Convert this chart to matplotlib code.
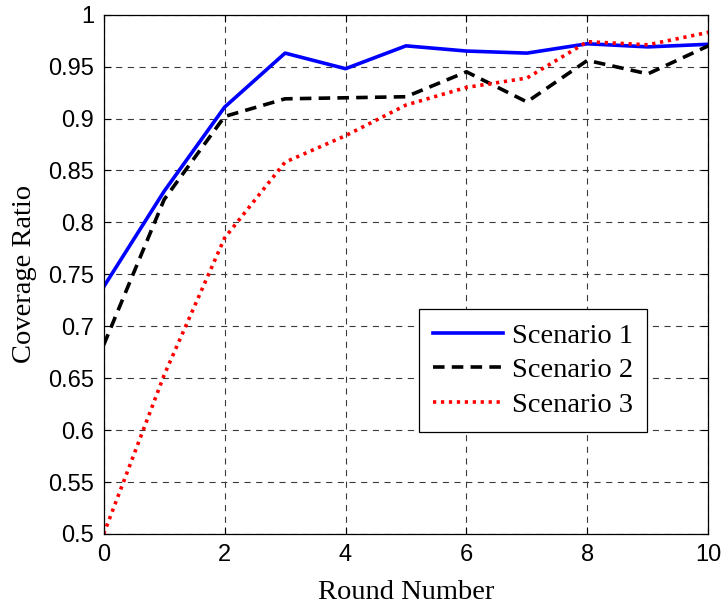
import matplotlib
matplotlib.use("Agg")
import matplotlib.pyplot as plt

rounds = list(range(11))
scenario1 = [0.738, 0.830, 0.911, 0.963, 0.948, 0.970, 0.965, 0.963, 0.972, 0.969, 0.9715]
scenario2 = [0.682, 0.822, 0.902, 0.919, 0.920, 0.921, 0.945, 0.916, 0.956, 0.943, 0.970]
scenario3 = [0.500, 0.653, 0.785, 0.858, 0.8835, 0.913, 0.930, 0.939, 0.974, 0.971, 0.983]
labels = ["Scenario 1", "Scenario 2", "Scenario 3"]
xticks = [0, 2, 4, 6, 8, 10]
yticks = [0.5, 0.55, 0.6, 0.65, 0.7, 0.75, 0.8, 0.85, 0.9, 0.95, 1.0]
ytick_labels = ["0.5", "0.55", "0.6", "0.65", "0.7", "0.75", "0.8", "0.85", "0.9", "0.95", "1"]

fig = plt.figure(figsize=(7.21, 6.07), dpi=100)
ax = fig.add_axes([0.1438, 0.1203, 0.8386, 0.8555])

ax.plot(rounds, scenario1, color="#0000ff", lw=2.6, linestyle="-", label=labels[0])
ax.plot(rounds, scenario2, color="black", lw=2.6, linestyle=(0, (3.2, 2.0)), label=labels[1])
ax.plot(rounds, scenario3, color="#ff0000", lw=2.6, linestyle=(0, (0.9, 1.3)), label=labels[2])

ax.set_xlim(0, 10)
ax.set_ylim(0.5, 1.0)
ax.set_xticks(xticks)
ax.set_yticks(yticks)
ax.set_yticklabels(ytick_labels)
ax.grid(True, color="#3a3a3a", linestyle=(0, (5.5, 5)), lw=0.8)
ax.tick_params(direction="in", top=True, right=True, length=5, labelsize=17, pad=7)
for lab in ax.get_xticklabels() + ax.get_yticklabels():
    lab.set_family("Liberation Sans")
for s in ax.spines.values():
    s.set_linewidth(0.9)

ax.set_xlabel("Round Number", family="Liberation Serif", fontsize=20.5, labelpad=10)
ax.set_ylabel("Coverage Ratio", family="Liberation Serif", fontsize=20.5, labelpad=8)

leg = ax.legend(loc="lower right", bbox_to_anchor=(0.8986, 0.1964), frameon=True, fancybox=False,
                edgecolor="black", framealpha=1, prop={"family": "Liberation Serif", "size": 20.5},
                handlelength=2.45, borderpad=0.5, labelspacing=0.3, handletextpad=0.3,
                borderaxespad=0)
leg.get_frame().set_linewidth(0.9)

fig.savefig("out.png", dpi=100)
